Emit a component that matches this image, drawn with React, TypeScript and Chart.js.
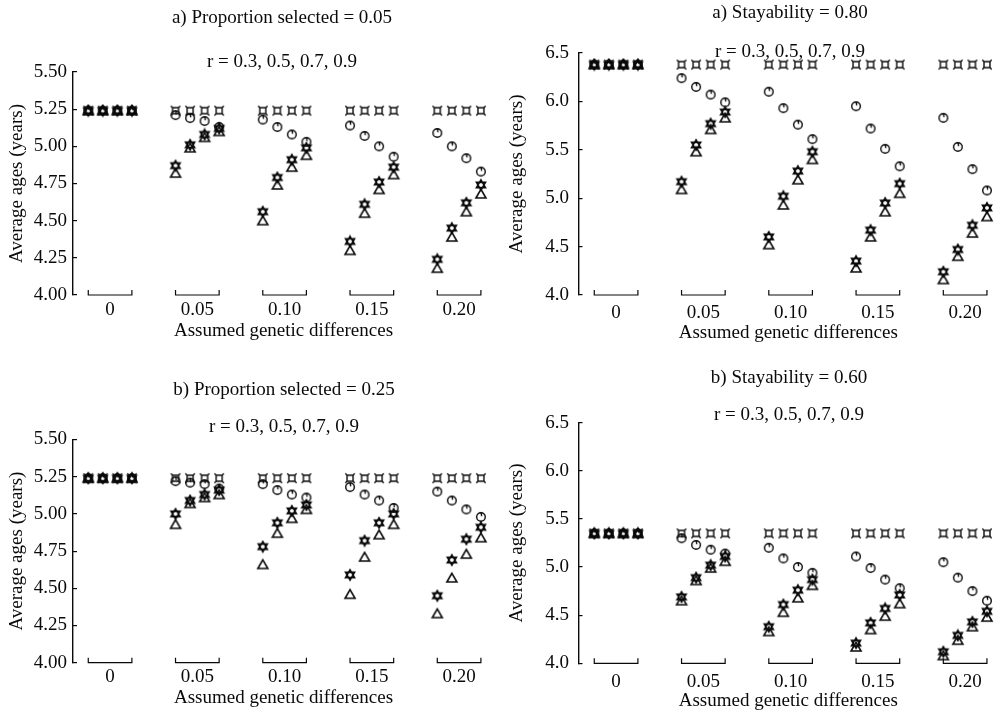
import React, { useEffect, useRef } from 'react';
import { Chart, registerables } from 'chart.js';

Chart.register(...registerables);

// ---------- categories ----------
const groupLabels = ['0', '0.05', '0.10', '0.15', '0.20']; // assumed genetic differences
const rValues = [0.3, 0.5, 0.7, 0.9]; // r within each group
const GROUP_STEP = 6;

// ---------- a) Proportion selected = 0.05 ----------
const ps05Square = [5.24, 5.24, 5.24, 5.24, 5.24, 5.24, 5.24, 5.24, 5.24, 5.24, 5.24, 5.24, 5.24, 5.24, 5.24, 5.24, 5.24, 5.24, 5.24, 5.24];
const ps05Circle = [5.24, 5.24, 5.24, 5.24, 5.21, 5.19, 5.17, 5.13, 5.18, 5.13, 5.08, 5.03, 5.14, 5.07, 5.00, 4.93, 5.09, 5.00, 4.92, 4.83];
const ps05Star = [5.24, 5.24, 5.24, 5.24, 4.87, 5.01, 5.08, 5.12, 4.56, 4.79, 4.91, 4.99, 4.36, 4.61, 4.76, 4.86, 4.24, 4.45, 4.62, 4.74];
const ps05Triangle = [5.24, 5.24, 5.24, 5.24, 4.82, 4.99, 5.06, 5.10, 4.50, 4.74, 4.86, 4.94, 4.30, 4.55, 4.71, 4.81, 4.18, 4.39, 4.56, 4.68];

// ---------- b) Proportion selected = 0.25 ----------
const ps25Square = [5.24, 5.24, 5.24, 5.24, 5.24, 5.24, 5.24, 5.24, 5.24, 5.24, 5.24, 5.24, 5.24, 5.24, 5.24, 5.24, 5.24, 5.24, 5.24, 5.24];
const ps25Circle = [5.24, 5.24, 5.24, 5.24, 5.22, 5.21, 5.20, 5.17, 5.20, 5.16, 5.13, 5.11, 5.18, 5.13, 5.09, 5.04, 5.15, 5.09, 5.03, 4.98];
const ps25Star = [5.24, 5.24, 5.24, 5.24, 5.00, 5.09, 5.13, 5.16, 4.78, 4.94, 5.02, 5.06, 4.59, 4.82, 4.94, 5.00, 4.45, 4.69, 4.83, 4.91];
const ps25Triangle = [5.24, 5.24, 5.24, 5.24, 4.93, 5.07, 5.11, 5.13, 4.66, 4.87, 4.97, 5.03, 4.46, 4.71, 4.86, 4.93, 4.33, 4.57, 4.73, 4.84];

// ---------- a) Stayability = 0.80 ----------
const st80Square = [6.38, 6.38, 6.38, 6.38, 6.38, 6.38, 6.38, 6.38, 6.38, 6.38, 6.38, 6.38, 6.38, 6.38, 6.38, 6.38, 6.38, 6.38, 6.38, 6.38];
const st80Circle = [6.38, 6.38, 6.38, 6.38, 6.24, 6.15, 6.07, 5.99, 6.10, 5.93, 5.76, 5.61, 5.95, 5.72, 5.51, 5.33, 5.83, 5.53, 5.30, 5.08];
const st80Star = [6.38, 6.38, 6.38, 6.38, 5.17, 5.55, 5.77, 5.89, 4.60, 5.02, 5.28, 5.48, 4.35, 4.67, 4.95, 5.15, 4.24, 4.47, 4.72, 4.90];
const st80Triangle = [6.38, 6.38, 6.38, 6.38, 5.09, 5.48, 5.71, 5.83, 4.52, 4.93, 5.19, 5.40, 4.28, 4.60, 4.86, 5.05, 4.16, 4.40, 4.64, 4.81];

// ---------- b) Stayability = 0.60 ----------
const st60Square = [5.35, 5.35, 5.35, 5.35, 5.35, 5.35, 5.35, 5.35, 5.35, 5.35, 5.35, 5.35, 5.35, 5.35, 5.35, 5.35, 5.35, 5.35, 5.35, 5.35];
const st60Circle = [5.35, 5.35, 5.35, 5.35, 5.30, 5.23, 5.18, 5.14, 5.20, 5.09, 5.00, 4.94, 5.11, 4.99, 4.87, 4.78, 5.05, 4.89, 4.75, 4.65];
const st60Star = [5.35, 5.35, 5.35, 5.35, 4.69, 4.89, 5.02, 5.11, 4.38, 4.61, 4.76, 4.87, 4.21, 4.42, 4.57, 4.71, 4.12, 4.29, 4.43, 4.54];
const st60Triangle = [5.35, 5.35, 5.35, 5.35, 4.65, 4.86, 4.99, 5.06, 4.33, 4.53, 4.68, 4.81, 4.17, 4.35, 4.49, 4.62, 4.08, 4.24, 4.38, 4.48];

// ---------- axis tick labels ----------
const yTicksProportion = [4.0, 4.25, 4.5, 4.75, 5.0, 5.25, 5.5];
const yTicksStayability = [4.0, 4.5, 5.0, 5.5, 6.0, 6.5];

const FONT_FAMILY = '"Liberation Serif", "Times New Roman", serif';
const FONT_SIZE = 19;
const INK = '#0a0a0a';

// x position of each point: group index and r index
const xPositions = groupLabels.flatMap((_, g) => rValues.map((_, i) => g * GROUP_STEP + i));

type MarkerKind = 'square' | 'circle' | 'star' | 'triangle';

function makeMarker(kind: MarkerKind): HTMLCanvasElement {
  const c = document.createElement('canvas');
  c.width = 14;
  c.height = 14;
  const ctx = c.getContext('2d')!;
  ctx.strokeStyle = INK;
  ctx.lineWidth = 1.6;
  const m = 7;
  ctx.beginPath();
  if (kind === 'square') {
    ctx.lineWidth = 1.4;
    ctx.rect(m - 3, m - 3, 6, 6);
    const e = 1.7;
    ctx.moveTo(m - 3, m - 3); ctx.lineTo(m - 3 - e, m - 3 - e);
    ctx.moveTo(m + 3, m - 3); ctx.lineTo(m + 3 + e, m - 3 - e);
    ctx.moveTo(m - 3, m + 3); ctx.lineTo(m - 3 - e, m + 3 + e);
    ctx.moveTo(m + 3, m + 3); ctx.lineTo(m + 3 + e, m + 3 + e);
  } else if (kind === 'circle') {
    ctx.lineWidth = 1.4;
    ctx.arc(m, m, 4.3, 0, Math.PI * 2);
    ctx.moveTo(m + 0.3, m - 4.3);
    ctx.lineTo(m + 0.6, m - 0.8);
  } else if (kind === 'star') {
    const R = 5.2;
    for (const start of [-90, 90]) {
      for (let k = 0; k < 3; k++) {
        const a = ((start + k * 120) * Math.PI) / 180;
        const px = m + R * Math.cos(a);
        const py = m + R * Math.sin(a);
        if (k === 0) ctx.moveTo(px, py);
        else ctx.lineTo(px, py);
      }
      ctx.closePath();
    }
  } else {
    ctx.moveTo(m, m - 4.6);
    ctx.lineTo(m + 5, m + 4);
    ctx.lineTo(m - 5, m + 4);
    ctx.closePath();
  }
  ctx.stroke();
  return c;
}

const bracketPlugin = {
  id: 'groupBrackets',
  afterDraw(chart: any) {
    const xs = chart.scales.x;
    const y = chart.chartArea.bottom;
    const ctx = chart.ctx;
    ctx.save();
    ctx.strokeStyle = INK;
    ctx.lineWidth = 1.2;
    ctx.beginPath();
    groupLabels.forEach((_, g) => {
      const x1 = xs.getPixelForValue(g * GROUP_STEP);
      const x2 = xs.getPixelForValue(g * GROUP_STEP + rValues.length - 1);
      ctx.moveTo(x1, y - 5);
      ctx.lineTo(x1, y);
      ctx.lineTo(x2, y);
      ctx.lineTo(x2, y - 5);
    });
    ctx.stroke();
    ctx.restore();
  },
};

const panelTitlePlugin = {
  id: 'panelTitles',
  afterDraw(chart: any, _args: any, opts: any) {
    const ctx = chart.ctx;
    ctx.save();
    ctx.font = `${FONT_SIZE}px ${FONT_FAMILY}`;
    ctx.fillStyle = INK;
    ctx.textAlign = 'center';
    ctx.textBaseline = 'middle';
    ctx.fillText(opts.title, opts.x, opts.titleY);
    ctx.fillText(opts.subtitle, opts.x, opts.subY);
    ctx.restore();
  },
};

interface PanelCfg {
  left: number; top: number; width: number; height: number;
  chartTop: number; chartBottom: number; axisX: number;
  xmin: number; xmax: number;
  yTicks: number[]; decimals: number; yTickPad: number;
  title: string; titleX: number; titleY: number; subY: number;
  tickLabelY: number; xTitleY: number;
  series: number[][];
}

const seriesKinds: MarkerKind[] = ['square', 'circle', 'triangle', 'star'];

function Panel({ cfg }: { cfg: PanelCfg }) {
  const ref = useRef<HTMLCanvasElement>(null);
  useEffect(() => {
    const font = { family: FONT_FAMILY, size: FONT_SIZE };
    const half = (FONT_SIZE * 1.2) / 2;
    const xAxisH = cfg.top + cfg.height - cfg.chartBottom;
    const xTickPad = cfg.tickLabelY - cfg.chartBottom - half;
    const xTitlePadB = Math.max(0, cfg.top + cfg.height - cfg.xTitleY - half);
    const datasets = cfg.series.map((vals, s) => ({
      label: seriesKinds[s],
      data: vals.map((v, k) => ({ x: xPositions[k], y: v })),
      pointStyle: makeMarker(seriesKinds[s]),
      pointRadius: 5,
      showLine: false,
      clip: false as any,
    }));
    const chart = new Chart(ref.current!, {
      type: 'scatter',
      data: { datasets },
      options: {
        animation: false,
        responsive: false,
        devicePixelRatio: 1,
        events: [],
        layout: { padding: { top: cfg.chartTop - cfg.top, left: 0, right: 0, bottom: 0 } },
        plugins: {
          legend: { display: false },
          tooltip: { enabled: false },
          title: { display: false },
          panelTitles: {
            title: cfg.title,
            subtitle: 'r = ' + rValues.join(', '),
            x: cfg.titleX - cfg.left,
            titleY: cfg.titleY - cfg.top,
            subY: cfg.subY - cfg.top,
          },
        } as any,
        scales: {
          x: {
            type: 'linear',
            min: cfg.xmin,
            max: cfg.xmax,
            afterFit: (s: any) => { s.height = xAxisH; },
            afterBuildTicks: (s: any) => {
              s.ticks = groupLabels.map((_, g) => ({ value: g * GROUP_STEP + (rValues.length - 1) / 2 }));
            },
            grid: { display: false, drawTicks: false },
            border: { display: false },
            ticks: {
              autoSkip: false,
              maxRotation: 0,
              padding: xTickPad,
              color: INK,
              font,
              callback: (_v: any, i: number) => groupLabels[i],
            },
            title: {
              display: true,
              text: 'Assumed genetic differences',
              color: INK,
              font,
              padding: { top: 0, bottom: xTitlePadB },
            },
          },
          y: {
            type: 'linear',
            min: cfg.yTicks[0],
            max: cfg.yTicks[cfg.yTicks.length - 1],
            afterFit: (s: any) => { s.width = cfg.axisX - cfg.left; },
            afterBuildTicks: (s: any) => { s.ticks = cfg.yTicks.map((v) => ({ value: v })); },
            grid: { display: true, drawOnChartArea: false, drawTicks: true, tickLength: -4, color: INK, lineWidth: 1.2 },
            border: { display: true, color: INK, width: 1.4 },
            ticks: {
              padding: cfg.yTickPad,
              color: INK,
              font,
              callback: (v: any) => Number(v).toFixed(cfg.decimals),
            },
            title: {
              display: true,
              text: 'Average ages (years)',
              color: INK,
              font,
              padding: { top: 5.6, bottom: 0 },
            },
          },
        },
      },
      plugins: [bracketPlugin, panelTitlePlugin],
    });
    return () => chart.destroy();
  }, [cfg]);
  return (
    <canvas
      ref={ref}
      width={cfg.width}
      height={cfg.height}
      style={{ position: 'absolute', left: cfg.left, top: cfg.top, width: cfg.width, height: cfg.height }}
    />
  );
}

const panels: PanelCfg[] = [
  {
    left: 0, top: 0, width: 500, height: 344, chartTop: 72, chartBottom: 295, axisX: 73,
    xmin: -1.05, xmax: 27.9, yTicks: yTicksProportion, decimals: 2, yTickPad: 10,
    title: 'a) Proportion selected = 0.05', titleX: 282, titleY: 18, subY: 62,
    tickLabelY: 310, xTitleY: 331,
    series: [ps05Square, ps05Circle, ps05Triangle, ps05Star],
  },
  {
    left: 500, top: 0, width: 504, height: 346, chartTop: 53, chartBottom: 295, axisX: 578.5,
    xmin: -1.085, xmax: 27.76, yTicks: yTicksStayability, decimals: 1, yTickPad: 13.5,
    title: 'a) Stayability = 0.80', titleX: 790, titleY: 13, subY: 52,
    tickLabelY: 313, xTitleY: 333,
    series: [st80Square, st80Circle, st80Triangle, st80Star],
  },
  {
    left: 0, top: 350, width: 500, height: 362, chartTop: 439.5, chartBottom: 662.7, axisX: 73,
    xmin: -1.05, xmax: 27.9, yTicks: yTicksProportion, decimals: 2, yTickPad: 10,
    title: 'b) Proportion selected = 0.25', titleX: 284, titleY: 390, subY: 426.7,
    tickLabelY: 676.7, xTitleY: 698.3,
    series: [ps25Square, ps25Circle, ps25Triangle, ps25Star],
  },
  {
    left: 500, top: 350, width: 504, height: 362, chartTop: 422.7, chartBottom: 663.3, axisX: 578.5,
    xmin: -1.085, xmax: 27.76, yTicks: yTicksStayability, decimals: 1, yTickPad: 13.5,
    title: 'b) Stayability = 0.60', titleX: 789, titleY: 378.3, subY: 415,
    tickLabelY: 681.7, xTitleY: 701.7,
    series: [st60Square, st60Circle, st60Triangle, st60Star],
  },
];

export default function App() {
  return (
    <div style={{ position: 'absolute', left: 0, top: 0, width: 1004, height: 712, background: '#fff', overflow: 'hidden' }}>
      {panels.map((p, i) => (
        <Panel key={i} cfg={p} />
      ))}
    </div>
  );
}
